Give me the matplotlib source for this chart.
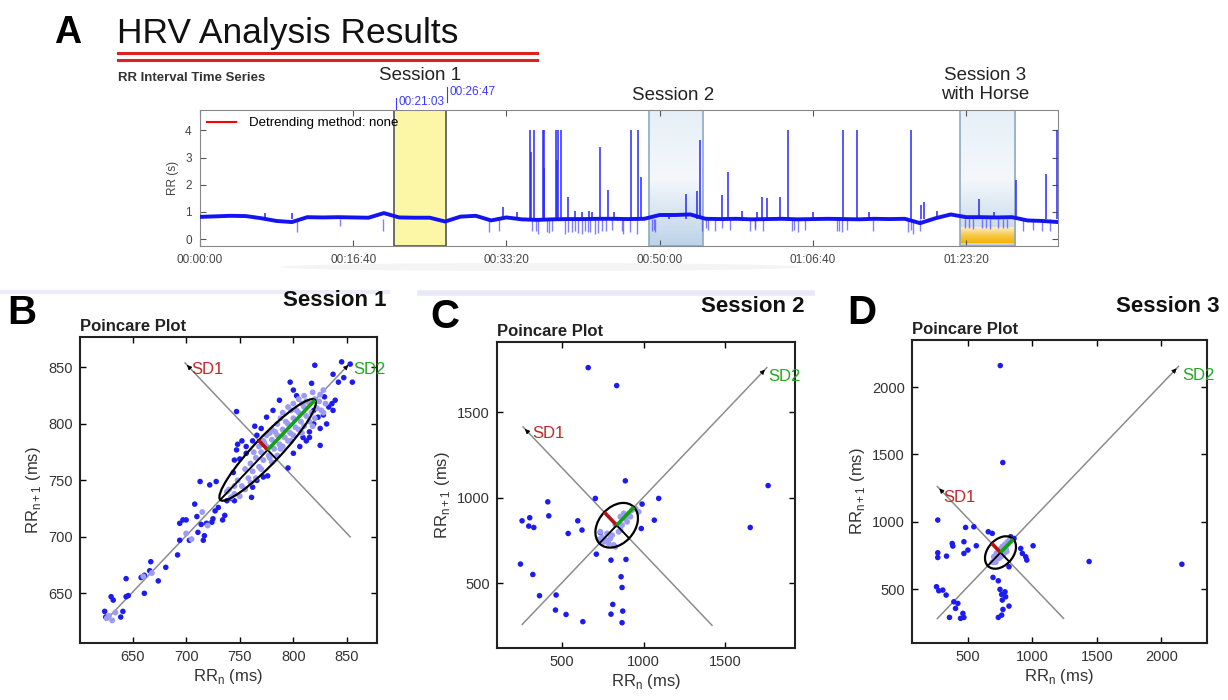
import numpy as np
import matplotlib.pyplot as plt
from matplotlib.patches import Ellipse, Rectangle
from matplotlib.colors import LinearSegmentedColormap
from matplotlib.lines import Line2D

plt.rcParams['font.family'] = ['Liberation Sans', 'DejaVu Sans']

#%% data -------------------------------------------------------------
# A. RR interval time series (s), baseline every 100 s plus spikes
t_base = list(range(0, 5700, 100))
rr_base = [0.82, 0.84, 0.86, 0.85, 0.77, 0.67, 0.63, 0.81, 0.80, 0.81,
           0.80, 0.79, 0.96, 0.80, 0.79, 0.79, 0.65, 0.83, 0.86, 0.69,
           0.80, 0.73, 0.71, 0.73, 0.74, 0.74, 0.75, 0.75, 0.74, 0.75,
           0.89, 0.89, 0.91, 0.75, 0.74, 0.75, 0.73, 0.74, 0.75, 0.73,
           0.74, 0.75, 0.74, 0.73, 0.75, 0.74, 0.75, 0.59, 0.77, 0.91,
           0.81, 0.81, 0.80, 0.81, 0.69, 0.67, 0.63]
up_t = [424, 598, 1980, 2067, 2154, 2182, 2237, 2248, 2322, 2339,
        2356, 2400, 2448, 2490, 2611, 2665, 2700, 2813, 2857, 2876,
        3170, 3242, 3264, 3405, 3449, 3634, 3671, 3703, 3786, 3840,
        4199, 4291, 4369, 4641, 4706, 4728, 5087, 5326, 5522, 5596,
        2160, 2243, 2330, 2540, 2560, 3060, 3540, 4000, 4810, 5180]
up_h = [0.95, 0.95, 1.2, 1.0, 4.0, 4.0, 4.0, 4.0, 4.0, 4.0,
        4.0, 1.56, 1.05, 1.0, 3.39, 1.8, 1.0, 4.0, 4.0, 2.29,
        1.68, 1.77, 3.63, 1.62, 2.48, 1.0, 1.56, 1.5, 1.56, 4.0,
        4.0, 4.0, 1.0, 4.0, 1.27, 1.38, 1.46, 2.17, 2.41, 4.0,
        3.2, 2.6, 2.9, 1.05, 1.0, 0.98, 1.05, 1.0, 1.02, 1.0]
down_t = [631, 914, 1197, 1883, 1953, 2165, 2208, 2263, 2295, 2382,
          2426, 2470, 2513, 2546, 2578, 2622, 2687, 2752, 2764, 2807,
          2851, 2948, 2970, 3275, 3318, 3362, 3405, 3459, 3590, 3622,
          3677, 3862, 3905, 3949, 4155, 4188, 4221, 4395, 4623, 4656,
          4699, 4993, 5047, 5102, 5156, 5210, 5265, 5373, 5439, 5493, 5547,
          2190, 2280, 2400, 2450, 2495, 2530, 2600, 2650, 2960, 3300,
          3620, 3880, 4170, 4640, 5020, 5130, 5240]
down_d = [0.25, 0.5, 0.3, 0.25, 0.3, 0.3, 0.2, 0.25, 0.3, 0.2,
          0.25, 0.22, 0.3, 0.25, 0.2, 0.3, 0.35, 0.3, 0.2, 0.25,
          0.2, 0.3, 0.25, 0.3, 0.35, 0.3, 0.4, 0.35, 0.3, 0.35,
          0.3, 0.3, 0.25, 0.35, 0.3, 0.25, 0.35, 0.3, 0.25, 0.2,
          0.3, 0.4, 0.38, 0.4, 0.38, 0.4, 0.4, 0.3, 0.35, 0.3, 0.3,
          0.3, 0.22, 0.25, 0.3, 0.2, 0.25, 0.22, 0.3, 0.35, 0.4,
          0.4, 0.35, 0.3, 0.35, 0.42, 0.42, 0.42]
sess_start = [1263, 2931, 4961]
sess_end = [1607, 3283, 5320]
time_ticks = [0, 1000, 2000, 3000, 4000, 5000]
time_labels = ['00:00:00', '00:16:40', '00:33:20', '00:50:00', '01:06:40', '01:23:20']

# B. Session 1 Poincare (ms)
b_x = [624, 625, 630, 632, 639, 641, 644, 646, 661, 644, 658, 661, 666, 667, 674, 681, 692, 694, 694, 697,
       700, 703, 708, 710, 711, 714, 716, 717, 719, 724, 725, 727, 728, 722, 713, 730, 734, 736, 738, 742,
       745, 744, 745, 747, 748, 752, 756, 761, 762, 766, 772, 776, 747, 764, 766, 795, 800, 806, 812, 815,
       819, 825, 831, 833, 836, 837, 839, 829, 837, 842, 845, 847, 853, 855, 820, 817, 797, 800, 803, 787,
       781, 775, 770, 762, 756, 750, 819, 823, 828, 825, 815, 809]
b_y = [634, 629, 647, 644, 629, 634, 647, 648, 650, 663, 664, 666, 670, 678, 661, 673, 684, 697, 712, 715,
       715, 697, 729, 718, 704, 711, 697, 701, 712, 713, 716, 723, 749, 746, 749, 726, 715, 719, 732, 734,
       732, 757, 768, 777, 782, 785, 780, 735, 744, 750, 753, 754, 811, 798, 790, 761, 774, 780, 785, 788,
       800, 781, 800, 815, 818, 812, 821, 824, 844, 837, 855, 841, 853, 837, 852, 836, 837, 830, 825, 821,
       812, 806, 796, 785, 774, 769, 812, 806, 808, 796, 793, 788]
b_core_x = [740, 745, 748, 752, 755, 758, 760, 762, 765, 768, 770, 772, 775, 777, 780, 782, 785, 787, 790, 792,
            795, 797, 800, 802, 805, 807, 810, 812, 815, 817, 820, 822, 825, 790, 795, 800, 805, 810, 785, 780,
            775, 800, 805, 810, 815, 820, 790, 795, 785, 780, 770, 765, 760, 755, 750, 745, 742, 738, 768, 763,
            772, 778, 788, 798, 808, 818, 828, 830, 826, 824, 812, 803, 793, 783, 773, 778, 788, 798, 808, 818,
            828, 628, 631, 634, 626, 660, 668, 700, 705, 715, 720]
b_core_y = [742, 738, 750, 745, 760, 752, 765, 758, 770, 762, 775, 768, 780, 772, 786, 778, 790, 782, 795, 788,
            800, 792, 805, 797, 810, 802, 815, 807, 818, 810, 822, 814, 826, 810, 815, 818, 822, 825, 800, 795,
            790, 790, 795, 798, 802, 805, 780, 785, 772, 766, 760, 752, 748, 742, 736, 745, 735, 740, 780, 775,
            785, 792, 805, 812, 818, 828, 830, 818, 812, 820, 820, 812, 802, 793, 783, 770, 778, 785, 792, 798,
            810, 630, 626, 633, 628, 665, 668, 703, 698, 722, 710]

# C. Session 2 Poincare (ms)
c_x = [888, 704, 412, 1093, 991, 254, 301, 295, 326, 418, 596, 622, 537, 1066, 986, 710, 800, 892, 244, 320,
       862, 868, 361, 463, 459, 524, 627, 811, 800, 872, 868, 660, 835, 1765, 1655, 735, 750]
c_y = [1098, 995, 975, 995, 962, 864, 882, 833, 825, 893, 864, 810, 790, 868, 819, 669, 634, 638, 611, 550,
       537, 474, 426, 430, 342, 316, 274, 375, 318, 336, 268, 1760, 1655, 1070, 825, 795, 750]
c_core_x = [735, 745, 766, 776, 796, 817, 827, 807, 847, 868, 888, 909, 929, 950, 970, 899, 858, 786, 755, 725,
            827, 858, 878, 776, 919]
c_core_y = [800, 767, 751, 741, 761, 722, 712, 780, 800, 839, 878, 907, 927, 936, 917, 858, 810, 732, 741, 755,
            839, 888, 907, 790, 888]

# D. Session 3 Poincare (ms)
d_x = [265, 481, 545, 657, 688, 377, 382, 468, 564, 499, 468, 265, 265, 333, 831, 857, 909, 922, 948, 956,
       1005, 818, 694, 735, 748, 787, 761, 792, 766, 818, 771, 761, 735, 255, 273, 304, 330, 390, 421, 403,
       460, 468, 442, 356, 750, 770, 1440, 2160]
d_y = [1013, 958, 963, 926, 914, 839, 820, 852, 822, 790, 765, 770, 735, 745, 889, 876, 802, 765, 740, 716,
       822, 666, 587, 562, 498, 480, 461, 443, 419, 374, 349, 307, 290, 518, 488, 493, 456, 406, 394, 357,
       320, 290, 283, 290, 2160, 1440, 705, 685]
d_core_x = [690, 710, 730, 750, 770, 790, 810, 830, 700, 720, 745, 765, 785, 805, 825, 715, 740, 760, 780, 800,
            735, 770, 795]
d_core_y = [700, 725, 745, 770, 790, 815, 835, 855, 740, 765, 795, 815, 830, 850, 870, 700, 730, 745, 765, 780,
            780, 760, 800]

# ellipse centre, SD1, SD2 and guide line ends for B, C, D
centres = [(776, 777), (835, 838), (752, 772)]
sd1_vals = [12, 108, 97]
sd2_vals = [62.5, 150, 140]
diag_ends = [(625, 853), (255, 1757), (262, 2134)]
perp_ends = [(699, 853), (260, 1420), (262, 1241)]
sd1_text = [(705, 848), (314, 1377), (308, 1180)]
sd2_text = [(856, 848), (1766, 1707), (2160, 2089)]
xlims = [(601, 878), (100, 1930), (65, 2355)]
ylims = [(606, 877), (120, 1910), (100, 2350)]
ticks = [[650, 700, 750, 800, 850], [500, 1000, 1500], [500, 1000, 1500, 2000]]

#%% figure -----------------------------------------------------------
W, H = 1228, 700
fig = plt.figure(figsize=(W / 100, H / 100), dpi=100)


def fx(px):
    return px / W


def fy(py):
    return 1 - py / H


# header of panel A
fig.text(fx(68), fy(33), 'A', fontsize=27, fontweight='bold', ha='center', va='center')
fig.text(fx(117), fy(43), 'HRV Analysis Results', fontsize=25.5, ha='left', va='baseline', color='#111111')
for yy in [53, 60]:
    fig.add_artist(Line2D([fx(118), fx(537)], [fy(yy), fy(yy)], color='#e02020', lw=2.2))
fig.text(fx(118), fy(78), 'RR Interval Time Series', fontsize=9.5, fontweight='bold', va='center', color='#333333')
fig.text(fx(420), fy(75), 'Session 1', fontsize=13.5, ha='center', va='center', color='#222222')
fig.text(fx(673), fy(95), 'Session 2', fontsize=13.5, ha='center', va='center', color='#222222')
fig.text(fx(985), fy(85), 'Session 3\nwith Horse', fontsize=13.5, ha='center', va='center',
         color='#222222', linespacing=1.1)

# faint strips separating the lower panels and the shadow under panel A
fig.add_artist(Line2D([fx(0), fx(388)], [fy(292), fy(292)], color='#ececf8', lw=3))
fig.add_artist(Line2D([fx(420), fx(812)], [fy(293), fy(293)], color='#e8e8f8', lw=4))
fig.add_artist(Ellipse((fx(540), fy(267)), fx(520), 8 / H, facecolor='#f4f4f4', edgecolor='none', zorder=0))

#%% A. time series
axA = fig.add_axes([fx(200), fy(246), fx(1058) - fx(200), fy(110) - fy(246)])
ylimA = (-0.25, 4.75)

# session boxes
axA.add_patch(Rectangle((sess_start[0], ylimA[0]), sess_end[0] - sess_start[0], ylimA[1] - ylimA[0],
                        facecolor='#fbf7a6', edgecolor='#555555', lw=1.2, zorder=1))
blue_cm = LinearSegmentedColormap.from_list('sess', ['#bdd3e9', '#f4f8fc', '#e6eff8'])
orange_cm = LinearSegmentedColormap.from_list('horse', ['#f5b400', '#f8c94a', '#fdf0c8'])
grad = np.linspace(0, 1, 100).reshape(-1, 1)
for k in [1, 2]:
    axA.imshow(grad, extent=[sess_start[k], sess_end[k], ylimA[0], ylimA[1]], origin='lower',
               cmap=blue_cm, aspect='auto', zorder=1)
    axA.add_patch(Rectangle((sess_start[k], ylimA[0]), sess_end[k] - sess_start[k], ylimA[1] - ylimA[0],
                            facecolor='none', edgecolor='#8fa9c0', lw=1.2, zorder=2))
axA.imshow(grad, extent=[sess_start[2], sess_end[2], -0.15, 0.42], origin='lower',
           cmap=orange_cm, aspect='auto', zorder=1)

axA.vlines(down_t, down_d, 0.74, color='#4a4aff', lw=1.0, alpha=0.7, zorder=3)
axA.vlines(up_t, 0.76, up_h, color='#2a2aff', lw=1.3, alpha=0.85, zorder=3)
axA.plot(t_base, rr_base, color='#1414f0', lw=2.8, zorder=4)

axA.set_xlim(0, 5600)
axA.set_ylim(*ylimA)
axA.set_xticks(time_ticks)
axA.set_xticklabels(time_labels)
axA.set_yticks([0, 1, 2, 3, 4])
axA.tick_params(direction='in', top=True, right=True, length=4, labelsize=8.5,
                labelcolor='#444444', color='#555555', pad=6)
axA.set_ylabel('RR (s)', fontsize=8.5, color='#444444', labelpad=4)
for s in axA.spines.values():
    s.set_color('#888888')
axA.legend(handles=[Line2D([], [], color='red', lw=1.5)], labels=['Detrending method: none'],
           loc='upper left', frameon=False, fontsize=9.5, handlelength=2.2, borderaxespad=0.15,
           handletextpad=1.0)

# marked start / end of session 1
axA.text(sess_start[0] + 30, 5.05, '00:21:03', color='#3a3aff', fontsize=8.5, va='center', ha='left')
axA.text(sess_end[0] + 20, 5.4, '00:26:47', color='#3a3aff', fontsize=8.5, va='center', ha='left')
axA.plot([sess_start[0] + 15] * 2, [4.75, 5.2], color='#3a3aff', lw=0.8, clip_on=False)
axA.plot([sess_end[0] + 5] * 2, [5.05, 5.6], color='#3a3aff', lw=0.8, clip_on=False)

#%% B, C, D Poincare plots
rects = [(80, 377, 337, 643), (497, 795, 342, 648), (912, 1207, 340, 643)]
letters = ['B', 'C', 'D']
letter_pos = [(22, 313), (445, 317), (862, 313)]
titles = ['Session 1', 'Session 2', 'Session 3']
title_pos = [(335, 301), (753, 306), (1168, 306)]
outer = [(b_x, b_y), (c_x, c_y), (d_x, d_y)]
core = [(b_core_x, b_core_y), (c_core_x, c_core_y), (d_core_x, d_core_y)]

for i in range(3):
    l, r, t, b = rects[i]
    ax = fig.add_axes([fx(l), fy(b), fx(r) - fx(l), fy(t) - fy(b)])
    cx, cy = centres[i]
    sd1, sd2 = sd1_vals[i], sd2_vals[i]

    # guide lines through the centre
    dx = np.array(diag_ends[i])
    ax.plot(dx, cy + (dx - cx), color='#8c8c8c', lw=1.1, zorder=1)
    px = np.array(perp_ends[i])
    ax.plot(px, cy - (px - cx), color='#8c8c8c', lw=1.1, zorder=1)
    span = (xlims[i][1] - xlims[i][0]) * 0.02
    ax.annotate('', xy=(dx[1], cy + dx[1] - cx), xytext=(dx[1] - span, cy + dx[1] - cx - span),
                arrowprops=dict(arrowstyle='-|>', color='black', lw=0.6, mutation_scale=7))
    ax.annotate('', xy=(px[0], cy - (px[0] - cx)), xytext=(px[0] + span, cy - (px[0] - cx) - span),
                arrowprops=dict(arrowstyle='-|>', color='black', lw=0.6, mutation_scale=7))

    ax.scatter(outer[i][0], outer[i][1], s=16, color='#1c1cf0', edgecolors='none', zorder=2)
    ax.scatter(core[i][0], core[i][1], s=18, color='#9c9cf2', edgecolors='none', zorder=3)

    ax.add_patch(Ellipse((cx, cy), 2 * sd2, 2 * sd1, angle=45, facecolor='none',
                         edgecolor='black', lw=1.6, zorder=4))
    u = np.array([1, 1]) / np.sqrt(2)
    v = np.array([-1, 1]) / np.sqrt(2)
    c = np.array([cx, cy])
    for p, q in [(c - sd2 * u, c + sd2 * u), (c - sd1 * v, c + sd1 * v)]:
        ax.plot([p[0], q[0]], [p[1], q[1]], color='black', lw=1.3, zorder=5)
    e1 = c + sd1 * v
    e2 = c + sd2 * u
    ax.plot([cx, e1[0]], [cy, e1[1]], color='#b41414', lw=2.6, zorder=6, solid_capstyle='butt')
    ax.plot([cx, e2[0]], [cy, e2[1]], color='#14a014', lw=2.6, zorder=6, solid_capstyle='butt')

    ax.text(sd1_text[i][0], sd1_text[i][1], 'SD1', color='#c02828', fontsize=12, va='center', ha='left')
    ax.text(sd2_text[i][0], sd2_text[i][1], 'SD2', color='#22a822', fontsize=12, va='center', ha='left',
            clip_on=False)

    ax.set_xlim(*xlims[i])
    ax.set_ylim(*ylims[i])
    ax.set_xticks(ticks[i])
    ax.set_yticks(ticks[i])
    ax.tick_params(direction='in', top=True, right=True, length=4, width=1, labelsize=10.5,
                   labelcolor='#333333', pad=5)
    for s in ax.spines.values():
        s.set_linewidth(1.5)
        s.set_color('#222222')
    ax.set_xlabel('RR$_\\mathregular{n}$ (ms)', fontsize=12, color='#333333', labelpad=2)
    ax.set_ylabel('RR$_\\mathregular{n+1}$ (ms)', fontsize=12, color='#333333', labelpad=4)

    fig.text(fx(letter_pos[i][0]), fy(letter_pos[i][1]), letters[i], fontsize=29, fontweight='bold',
             ha='center', va='center')
    fig.text(fx(title_pos[i][0]), fy(title_pos[i][1]), titles[i], fontsize=16, fontweight='bold',
             ha='center', va='center', color='#111111')
    fig.text(fx(l), fy(t - 10), 'Poincare Plot', fontsize=12, fontweight='bold', ha='left', va='center',
             color='#222222')

fig.savefig('out.png', dpi=100)
